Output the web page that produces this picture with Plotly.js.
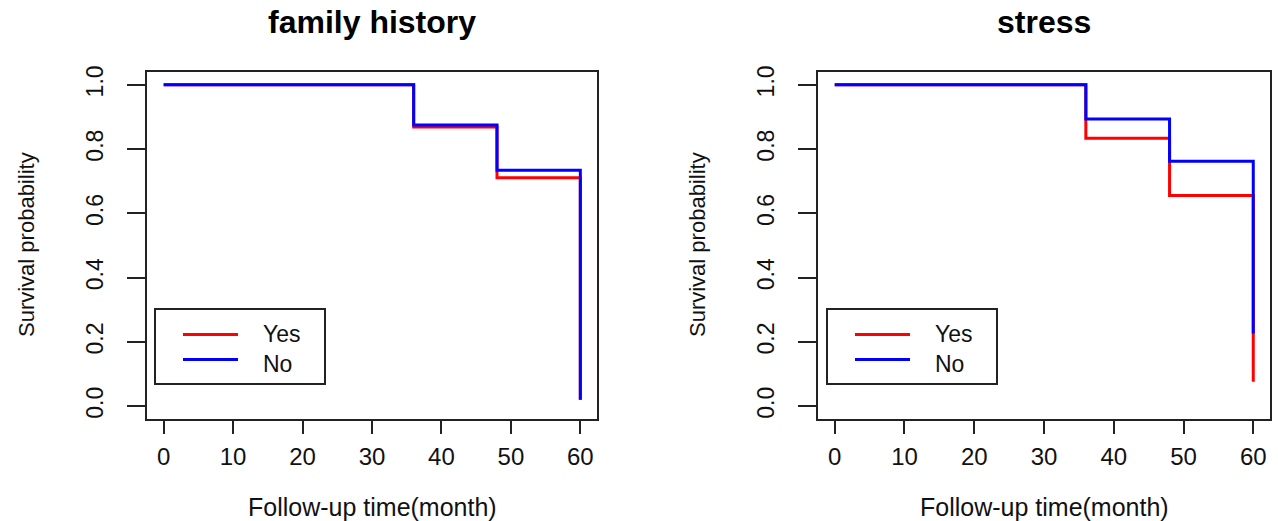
<!DOCTYPE html>
<html>
<head>
<meta charset="utf-8">
<script src="https://cdn.plot.ly/plotly-3.0.1.min.js"></script>
<style>html,body{margin:0;padding:0;background:#fff;}#chart{width:1278px;height:521px;}</style>
</head>
<body>
<div id="chart"></div>
<script>
// Panel titles and group labels
const panelTitles = ["family history", "stress"];
const groupNames = ["Yes", "No"];
const groupColors = ["#ff0000", "#0000ff"];
const xTitle = "Follow-up time(month)";
const yTitle = "Survival probability";

// Kaplan-Meier step data (time in months, survival probability)
const famYesTime = [0, 36, 48, 60];
const famYesSurv = [1.0, 0.869, 0.711, 0.02];
const famNoTime = [0, 36, 48, 60];
const famNoSurv = [1.0, 0.875, 0.734, 0.02];

const stressYesTime = [0, 36, 48, 60];
const stressYesSurv = [1.0, 0.834, 0.656, 0.076];
const stressNoTime = [0, 36, 48, 60];
const stressNoSurv = [1.0, 0.894, 0.762, 0.226];

const xTicks = [0, 10, 20, 30, 40, 50, 60];
const yTicks = [0.0, 0.2, 0.4, 0.6, 0.8, 1.0];
const yTickText = ["0.0", "0.2", "0.4", "0.6", "0.8", "1.0"];

const W = 1278, H = 521;
const FONT = "Liberation Sans, Arial, sans-serif";
const lineCol = "#222";

function stepTrace(x, y, name, color, xa, ya) {
  return {
    x: x, y: y, name: name, type: "scatter", mode: "lines",
    line: {shape: "hv", color: color, width: 3},
    xaxis: xa, yaxis: ya, showlegend: false, hoverinfo: "skip"
  };
}

const data = [
  stepTrace(famYesTime, famYesSurv, groupNames[0], groupColors[0], "x", "y"),
  stepTrace(famNoTime, famNoSurv, groupNames[1], groupColors[1], "x", "y"),
  stepTrace(stressYesTime, stressYesSurv, groupNames[0], groupColors[0], "x2", "y2"),
  stepTrace(stressNoTime, stressNoSurv, groupNames[1], groupColors[1], "x2", "y2")
];

const yDom = [1 - 419 / H, 1 - 72 / H];
const xDom1 = [147 / W, 597 / W];
const xDom2 = [818 / W, 1270 / W];

function xAxis(dom, anchor) {
  return {
    domain: dom, anchor: anchor, range: [-2.4, 62.4],
    tickvals: xTicks, ticks: "outside", ticklen: 13, tickwidth: 2, tickcolor: lineCol,
    showline: true, mirror: true, linecolor: lineCol, linewidth: 2,
    showgrid: false, zeroline: false,
    tickfont: {family: FONT, size: 24, color: "#111"}, ticklabelstandoff: 2,
    fixedrange: true
  };
}
function yAxis(anchor) {
  return {
    domain: yDom, anchor: anchor, range: [-0.04, 1.04],
    tickvals: yTicks, ticktext: yTickText, tickangle: -90,
    ticks: "outside", ticklen: 18, tickwidth: 2, tickcolor: lineCol,
    showline: true, mirror: true, linecolor: lineCol, linewidth: 2,
    showgrid: false, zeroline: false,
    tickfont: {family: FONT, size: 23, color: "#111"}, ticklabelstandoff: 15,
    fixedrange: true
  };
}

// Legend drawn as a boxed key (R-style legend) in paper coordinates
const shapes = [];
const legendAnns = [];
function addLegend(left) {
  const px = v => v / W, py = v => 1 - v / H;
  shapes.push({type: "rect", xref: "paper", yref: "paper",
    x0: px(left), x1: px(left + 170), y0: py(309), y1: py(384),
    line: {color: lineCol, width: 2}, fillcolor: "#ffffff", layer: "above"});
  const rows = [334.5, 359.5];
  groupNames.forEach((g, i) => {
    shapes.push({type: "line", xref: "paper", yref: "paper",
      x0: px(left + 28), x1: px(left + 83), y0: py(rows[i]), y1: py(rows[i]),
      line: {color: groupColors[i], width: 3}, layer: "above"});
  });
  legendAnns.push({text: groupNames.join("<br>"), x: px(left + 106), y: py(349),
    xref: "paper", yref: "paper", xanchor: "left", yanchor: "middle", align: "left",
    showarrow: false, font: {family: FONT, size: 23, color: "#111"}});
}
addLegend(155);
addLegend(827);

function titleAnn(text, xc) {
  return {text: "<b>" + text + "</b>", x: xc, y: 1 - 22 / H, xref: "paper", yref: "paper",
    xanchor: "center", yanchor: "middle", showarrow: false,
    font: {family: FONT, size: 32, color: "#000"}};
}
function xTitleAnn(xc) {
  return {text: xTitle, x: xc, y: 1 - 507 / H, xref: "paper", yref: "paper",
    xanchor: "center", yanchor: "middle", showarrow: false,
    font: {family: FONT, size: 25, color: "#111"}};
}
function yTitleAnn(xpx) {
  return {text: yTitle, x: xpx / W, y: 1 - 245 / H, xref: "paper", yref: "paper",
    xanchor: "center", yanchor: "middle", showarrow: false, textangle: -90,
    font: {family: FONT, size: 22, color: "#111"}};
}

const layout = {
  width: W, height: H,
  margin: {l: 0, r: 0, t: 0, b: 0},
  paper_bgcolor: "#ffffff", plot_bgcolor: "#ffffff",
  showlegend: false,
  xaxis: xAxis(xDom1, "y"), yaxis: yAxis("x"),
  xaxis2: xAxis(xDom2, "y2"), yaxis2: yAxis("x2"),
  shapes: shapes,
  annotations: [
    titleAnn(panelTitles[0], (xDom1[0] + xDom1[1]) / 2),
    titleAnn(panelTitles[1], (xDom2[0] + xDom2[1]) / 2),
    xTitleAnn((xDom1[0] + xDom1[1]) / 2),
    xTitleAnn((xDom2[0] + xDom2[1]) / 2),
    yTitleAnn(27), yTitleAnn(698)
  ].concat(legendAnns)
};

Plotly.newPlot("chart", data, layout, {displayModeBar: false, staticPlot: true});
</script>
</body>
</html>
